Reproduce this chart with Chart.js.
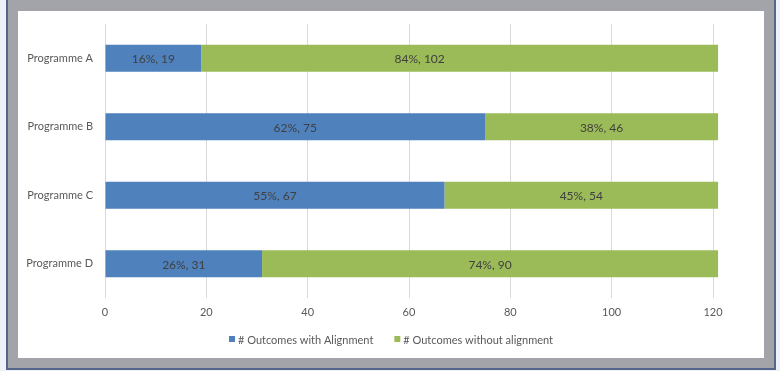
<!DOCTYPE html>
<html>
<head>
<meta charset="utf-8">
<script src="https://cdn.jsdelivr.net/npm/chart.js@4.4.0/dist/chart.umd.min.js"></script>
<style>
    body { margin: 0; background: #eef2f8; }
    #frame {
        position: absolute; left: 6px; top: 0; width: 770px; height: 370px;
        box-sizing: border-box; background: #a3a4a9;
        border: 2px solid #56658c; border-top: none;
    }
    #panel {
        position: absolute; left: 10px; top: 11px; width: 746px; height: 347px;
        background: #fff;
    }
    #panel canvas { display: block; }
</style>
</head>
<body>
<div id="frame">
    <div id="panel"><canvas id="outcomesChart" width="746" height="347"></canvas></div>
</div>
<script>
// Outcomes per programme
const programmes = ['Programme A', 'Programme B', 'Programme C', 'Programme D'];
const withAlignment = [19, 75, 67, 31];
const withoutAlignment = [102, 46, 54, 90];
const seriesNames = ['# Outcomes with Alignment', '# Outcomes without alignment'];
const axisTicks = [0, 20, 40, 60, 80, 100, 120];

const FONT = 'Lato, "Open Sans", sans-serif';
const colors = ['#4f81bd', '#9bbb59'];

// Row totals used for the percentage part of each label
const totals = programmes.map((_, i) => withAlignment[i] + withoutAlignment[i]);

// Writes "pct%, value" in the middle of every bar segment
const segmentLabels = {
    id: 'segmentLabels',
    afterDatasetsDraw(chart, args, opts) {
        const ctx = chart.ctx;
        ctx.save();
        ctx.font = '12px ' + FONT;
        ctx.fillStyle = '#404040';
        ctx.textAlign = 'center';
        ctx.textBaseline = 'middle';
        chart.data.datasets.forEach((ds, di) => {
            chart.getDatasetMeta(di).data.forEach((bar, i) => {
                const v = ds.data[i];
                const pct = Math.round(v / totals[i] * 100);
                const nudge = (opts.nudge || []).find(n => n.dataset === di && n.index === i);
                const x = (bar.x + bar.base) / 2 + (nudge ? nudge.dx : 0);
                ctx.fillText(pct + '%, ' + v, x, bar.y + 1);
            });
        });
        ctx.restore();
    }
};

// Small square-marker legend centred under the chart
const bottomLegend = {
    id: 'bottomLegend',
    afterDraw(chart) {
        const ctx = chart.ctx;
        const box = 6, gap = 3, spacing = 21;
        ctx.save();
        ctx.font = '11px ' + FONT;
        ctx.textBaseline = 'middle';
        const items = chart.data.datasets.map(ds => ({
            text: ds.label, color: ds.backgroundColor,
            w: box + gap + ctx.measureText(ds.label).width
        }));
        const full = items.reduce((s, it) => s + it.w, 0) + spacing * (items.length - 1);
        let x = chart.width / 2 - full / 2;
        const y = chart.height - 19;
        items.forEach(it => {
            ctx.fillStyle = it.color;
            ctx.fillRect(x, y - box / 2, box, box);
            ctx.fillStyle = '#595959';
            ctx.fillText(it.text, x + box + gap, y + 1);
            x += it.w + spacing;
        });
        ctx.restore();
    }
};

new Chart(document.getElementById('outcomesChart'), {
    type: 'bar',
    data: {
        labels: programmes,
        datasets: [
            { label: seriesNames[0], data: withAlignment, backgroundColor: colors[0], clip: false },
            { label: seriesNames[1], data: withoutAlignment, backgroundColor: colors[1], clip: false }
        ]
    },
    options: {
        indexAxis: 'y',
        responsive: false,
        animation: false,
        layout: { padding: { top: 13, right: 51, bottom: 34, left: 0 } },
        datasets: { bar: { barPercentage: 0.394, categoryPercentage: 1 } },
        plugins: {
            legend: { display: false },
            tooltip: { enabled: false },
            segmentLabels: { nudge: [{ dataset: 1, index: 0, dx: -40 }] }
        },
        scales: {
            x: {
                stacked: true,
                min: axisTicks[0],
                max: axisTicks[axisTicks.length - 1],
                afterBuildTicks: scale => { scale.ticks = axisTicks.map(v => ({ value: v })); },
                afterFit: scale => { scale.height = 26; },
                grid: { color: '#d9d9d9', drawTicks: false },
                border: { display: false },
                ticks: { color: '#595959', padding: 8, font: { family: FONT, size: 11 } }
            },
            y: {
                stacked: true,
                afterFit: scale => {
                    scale.width = 87;
                    scale.paddingTop = 0;
                    scale.paddingBottom = 0;
                },
                grid: { display: false, drawTicks: false },
                border: { display: false },
                ticks: { color: '#595959', padding: 12, font: { family: FONT, size: 11 } }
            }
        }
    },
    plugins: [segmentLabels, bottomLegend]
});
</script>
</body>
</html>
